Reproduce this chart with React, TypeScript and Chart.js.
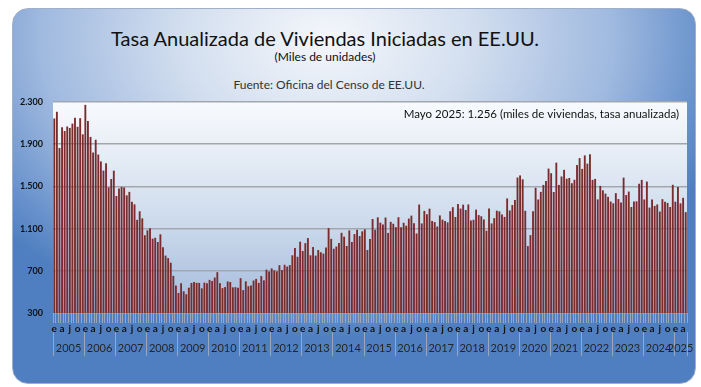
import React, { useEffect, useRef } from "react";
import { Chart, registerables } from "chart.js";

Chart.register(...registerables);

// ---------- data ----------
const YEARS = [
  "2005", "2006", "2007", "2008", "2009", "2010", "2011", "2012", "2013", "2014",
  "2015", "2016", "2017", "2018", "2019", "2020", "2021", "2022", "2023", "2024", "2025",
];
const MONTH_INITIALS = ["e", "", "", "a", "", "", "j", "", "", "o", "", ""];
const Y_TICKS = [300, 700, 1100, 1500, 1900, 2300];

const s2005 = [2144, 2207, 1864, 2061, 2025, 2068, 2054, 2095, 2151, 2065, 2147, 1994];
const s2006 = [2273, 2119, 1969, 1821, 1942, 1802, 1737, 1650, 1720, 1491, 1570, 1649];
const s2007 = [1409, 1480, 1495, 1490, 1415, 1448, 1354, 1330, 1183, 1264, 1197, 1037];
const s2008 = [1084, 1103, 1005, 1013, 973, 1046, 923, 844, 820, 777, 652, 560];
const s2009 = [490, 582, 505, 478, 540, 585, 594, 586, 585, 534, 588, 581];
const s2010 = [614, 604, 636, 687, 583, 536, 546, 599, 594, 543, 545, 539];
const s2011 = [630, 517, 600, 554, 561, 608, 623, 585, 650, 610, 711, 694];
const s2012 = [723, 704, 695, 753, 708, 757, 740, 754, 847, 915, 833, 976];
const s2013 = [888, 962, 1010, 847, 925, 844, 897, 876, 863, 920, 1105, 1003];
const s2014 = [909, 930, 963, 1060, 1024, 935, 1083, 973, 1048, 1088, 1029, 1074];
const s2015 = [1093, 897, 1002, 1191, 1089, 1207, 1156, 1140, 1205, 1059, 1164, 1146];
const s2016 = [1114, 1208, 1113, 1155, 1128, 1195, 1223, 1150, 1054, 1328, 1149, 1268];
const s2017 = [1236, 1289, 1172, 1162, 1120, 1225, 1185, 1172, 1159, 1265, 1303, 1210];
const s2018 = [1334, 1290, 1327, 1276, 1329, 1177, 1184, 1280, 1228, 1217, 1187, 1080];
const s2019 = [1291, 1149, 1199, 1270, 1264, 1233, 1211, 1386, 1272, 1323, 1371, 1584];
const s2020 = [1604, 1567, 1269, 934, 1038, 1265, 1487, 1376, 1448, 1514, 1552, 1669];
const s2021 = [1625, 1447, 1725, 1514, 1594, 1657, 1573, 1580, 1530, 1563, 1703, 1768];
const s2022 = [1666, 1794, 1716, 1805, 1562, 1571, 1377, 1505, 1463, 1432, 1401, 1357];
const s2023 = [1340, 1436, 1380, 1348, 1583, 1418, 1451, 1305, 1356, 1359, 1525, 1562];
const s2024 = [1376, 1546, 1299, 1377, 1315, 1329, 1262, 1379, 1355, 1344, 1305, 1515];
const s2025 = [1355, 1494, 1339, 1392, 1256];

const STARTS = [
  ...s2005, ...s2006, ...s2007, ...s2008, ...s2009, ...s2010, ...s2011,
  ...s2012, ...s2013, ...s2014, ...s2015, ...s2016, ...s2017, ...s2018,
  ...s2019, ...s2020, ...s2021, ...s2022, ...s2023, ...s2024, ...s2025,
];
const LABELS = STARTS.map((_, i) => `${YEARS[Math.floor(i / 12)]}-${(i % 12) + 1}`);

const TITLE = "Tasa Anualizada de Viviendas Iniciadas en EE.UU.";
const SUBTITLE = "(Miles de unidades)";
const SOURCE = "Fuente: Oficina del Censo de EE.UU.";
const NOTE = "Mayo 2025: 1.256 (miles de viviendas, tasa anualizada)";

const FONT = "Lato, 'Open Sans', sans-serif";

function fmt(n: number): string {
  return String(n).replace(/\B(?=(\d{3})+(?!\d))/g, ".");
}

const decor = {
  id: "decor",
  beforeDraw(chart: any) {
    const { ctx, chartArea: a } = chart;
    const g = ctx.createLinearGradient(0, a.top, 0, a.bottom);
    g.addColorStop(0, "#f8fafd");
    g.addColorStop(0.5, "#d3dfee");
    g.addColorStop(1, "#a2badb");
    ctx.save();
    ctx.fillStyle = g;
    ctx.fillRect(a.left, a.top, a.right - a.left, a.bottom - a.top);
    ctx.restore();
  },
  afterDraw(chart: any) {
    const { ctx, chartArea: a } = chart;
    const x = chart.scales.x;
    const half = (x.getPixelForValue(1) - x.getPixelForValue(0)) / 2;
    ctx.save();
    ctx.strokeStyle = "#9aa7ba";
    ctx.lineWidth = 1;
    ctx.fillStyle = "#262626";
    ctx.font = `11px ${FONT}`;
    ctx.textAlign = "center";
    ctx.textBaseline = "middle";
    YEARS.forEach((yr, k) => {
      const i0 = k * 12;
      const i1 = Math.min(i0 + 11, STARTS.length - 1);
      const l = x.getPixelForValue(i0) - half;
      const r = x.getPixelForValue(i1) + half;
      ctx.beginPath();
      ctx.moveTo(Math.round(l) + 0.5, 332);
      ctx.lineTo(Math.round(l) + 0.5, 356);
      if (k === YEARS.length - 1) {
        ctx.moveTo(Math.round(r) + 0.5, 332);
        ctx.lineTo(Math.round(r) + 0.5, 356);
      }
      ctx.stroke();
      ctx.fillText(yr, (l + r) / 2, 348);
    });
    ctx.fillStyle = "#111";
    ctx.font = `11.5px ${FONT}`;
    ctx.textAlign = "right";
    ctx.fillText(NOTE, a.right - 8, a.top + 12);
    ctx.restore();
  },
};

export default function App() {
  const ref = useRef<HTMLCanvasElement | null>(null);

  useEffect(() => {
    if (!ref.current) return;
    const chart = new Chart(ref.current, {
      type: "bar",
      data: {
        labels: LABELS,
        datasets: [
          {
            data: STARTS,
            backgroundColor: "#7a2b2e",
            borderWidth: 0,
            barPercentage: 0.72,
            categoryPercentage: 1,
          },
        ],
      },
      options: {
        responsive: false,
        animation: false,
        devicePixelRatio: 1,
        layout: { padding: { left: 0, right: 14, top: 102, bottom: 0 } },
        plugins: {
          legend: { display: false },
          tooltip: { enabled: false },
          title: { display: false },
        },
        scales: {
          x: {
            type: "category",
            offset: true,
            afterFit: (s: any) => {
              s.height = 74;
            },
            grid: {
              offset: true,
              drawOnChartArea: false,
              drawTicks: true,
              tickLength: 10,
              color: "#9aa7ba",
              lineWidth: 1,
            },
            border: { display: false },
            ticks: {
              autoSkip: false,
              maxRotation: 0,
              minRotation: 0,
              padding: 0,
              color: "#111",
              font: { family: FONT, size: 10, weight: "bold" },
              callback: (_v: any, i: number) => MONTH_INITIALS[i % 12],
            },
          },
          y: {
            min: 300,
            max: 2300,
            afterFit: (s: any) => {
              s.width = 53;
            },
            afterBuildTicks: (s: any) => {
              s.ticks = Y_TICKS.map((v) => ({ value: v }));
            },
            grid: { color: "#a3a7ad", lineWidth: 1.5, drawTicks: false },
            border: { display: false },
            ticks: {
              padding: 10,
              color: "#111",
              font: { family: FONT, size: 9, weight: "bold" },
              callback: (v: any) => fmt(Number(v)),
            },
          },
        },
      },
      plugins: [decor],
    } as any);
    return () => chart.destroy();
  }, []);

  return (
    <div
      style={{
        position: "absolute",
        left: 0,
        top: 0,
        width: 701,
        height: 387,
        background: "#ffffff",
        overflow: "hidden",
        fontFamily: FONT,
      }}
    >
      <div
        style={{
          position: "absolute",
          left: 12,
          top: 8,
          width: 684,
          height: 376,
          borderRadius: 16,
          border: "1px solid #9fb0c8",
          boxSizing: "border-box",
          background:
            "radial-gradient(ellipse 62% 80% at 46% 8%, #f4f7fb 0%, #d2deef 35%, #9fb9df 68%, #6690cb 90%, #4f7fc0 100%)",
        }}
      />
      <div
        style={{
          position: "absolute",
          left: 0,
          width: 650,
          top: 25,
          textAlign: "center",
          fontSize: 20,
          color: "#111",
          lineHeight: "26px",
          whiteSpace: "nowrap",
        }}
      >
        {TITLE}
      </div>
      <div
        style={{
          position: "absolute",
          left: 0,
          width: 650,
          top: 49,
          textAlign: "center",
          fontSize: 12,
          color: "#111",
          lineHeight: "16px",
        }}
      >
        {SUBTITLE}
      </div>
      <div
        style={{
          position: "absolute",
          left: 0,
          width: 658,
          top: 77,
          textAlign: "center",
          fontSize: 12,
          color: "#333",
          lineHeight: "16px",
        }}
      >
        {SOURCE}
      </div>
      <canvas
        ref={ref}
        width={701}
        height={387}
        style={{ position: "absolute", left: 0, top: 0, width: 701, height: 387 }}
      />
    </div>
  );
}
